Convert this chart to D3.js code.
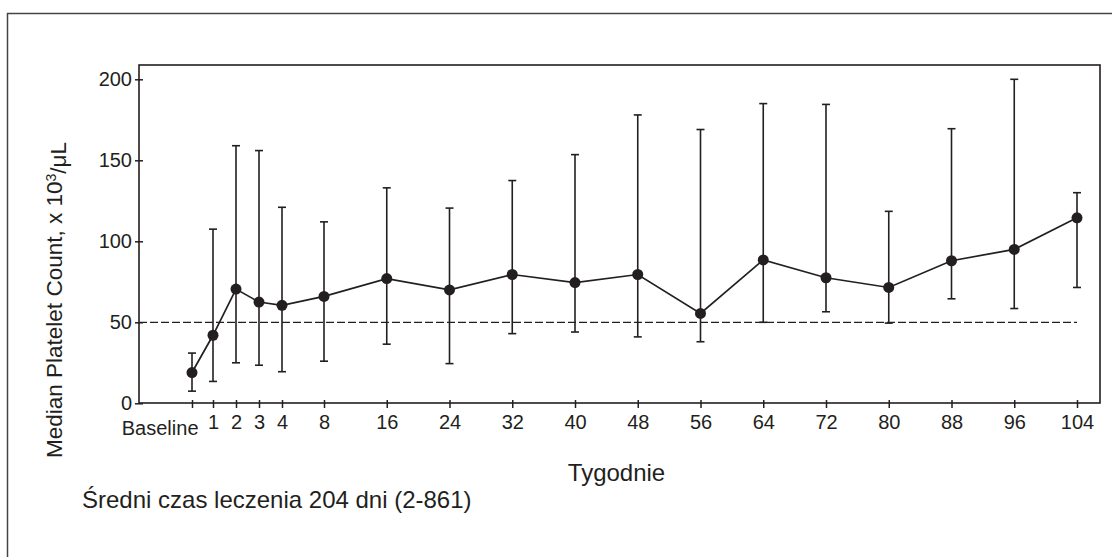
<!DOCTYPE html>
<html>
<head>
<meta charset="utf-8">
<script src="https://cdn.jsdelivr.net/npm/d3@7"></script>
<style>
  body { margin: 0; background: #fff; }
  text { font-family: "Liberation Sans", Arial, sans-serif; fill: #231f20; }
</style>
</head>
<body>
<div id="chart"></div>
<script>
const WIDTH = 1112;
const HEIGHT = 557;
const INK = "#231f20";

// weeks (Baseline = 0) and tick labels
const weeks = [0, 1, 2, 3, 4, 8, 16, 24, 32, 40, 48, 56, 64, 72, 80, 88, 96, 104];
const weekLabels = ["Baseline", "1", "2", "3", "4", "8", "16", "24", "32", "40", "48", "56", "64", "72", "80", "88", "96", "104"];

// median platelet count and range, x 10^3/uL
const median = [19, 42, 70.5, 62.5, 60.5, 66, 77, 70, 79.5, 74.5, 79.5, 55.5, 88.5, 77.5, 71.5, 88, 95, 114.5];
const upper = [31, 107.5, 159, 156, 121, 112, 133, 120.5, 137.5, 153.5, 178, 169, 185, 184.5, 118.5, 169.5, 200, 130];
const lower = [7.5, 13.5, 25, 23.5, 19.5, 26, 36.5, 24.5, 43, 44, 41, 38, 50, 56.5, 49.5, 64.5, 58.5, 71.5];

const yTicks = [0, 50, 100, 150, 200];
const threshold = 50;

const plot = { left: 139, top: 65, right: 1100, bottom: 403 };

const svg = d3.select("#chart")
    .append("svg")
    .attr("width", WIDTH)
    .attr("height", HEIGHT);

// outer frame (runs off the right/bottom edge)
svg.append("rect")
    .attr("x", 7.5).attr("y", 13.5)
    .attr("width", WIDTH + 20).attr("height", HEIGHT + 20)
    .attr("fill", "none").attr("stroke", "#444").attr("stroke-width", 1.5);

// x: uneven spacing for the early weeks
const x = d3.scaleLinear()
    .domain([0, 1, 4, 8, 104])
    .range([192, 213, 282, 324, 1077]);

const y = d3.scaleLinear()
    .domain([0, 200])
    .range([403.3, 79.3]);

// plot box
svg.append("rect")
    .attr("x", plot.left).attr("y", plot.top)
    .attr("width", plot.right - plot.left).attr("height", plot.bottom - plot.top)
    .attr("fill", "none").attr("stroke", INK).attr("stroke-width", 1.6);

// === Y AXIS ===
const yAxis = svg.append("g")
    .attr("transform", `translate(${plot.left},0)`)
    .call(d3.axisLeft(y).tickValues(yTicks).tickSize(0).tickPadding(7));
yAxis.select(".domain").remove();
yAxis.selectAll(".tick line")
    .attr("x1", -4).attr("x2", 4)
    .attr("stroke", INK).attr("stroke-width", 1.5);
yAxis.selectAll(".tick text")
    .attr("fill", INK)
    .style("font-size", "20px")
    .style("font-family", "Liberation Sans, Arial, sans-serif");

// === X AXIS ===
const xAxis = svg.append("g")
    .attr("transform", `translate(0,${plot.bottom})`)
    .call(d3.axisBottom(x).tickValues(weeks).tickSize(0)
        .tickFormat((d, i) => weekLabels[i]));
xAxis.select(".domain").remove();
xAxis.selectAll(".tick line")
    .attr("y1", -3).attr("y2", 5)
    .attr("stroke", INK).attr("stroke-width", 1.5);
xAxis.selectAll(".tick text")
    .attr("fill", INK)
    .attr("dy", null)
    .attr("y", (d, i) => i === 0 ? 32 : 26)
    .attr("text-anchor", (d, i) => i === 0 ? "end" : "middle")
    .attr("x", (d, i) => i === 0 ? 6 : 0)
    .style("font-size", "20px")
    .style("font-family", "Liberation Sans, Arial, sans-serif");

// threshold line at 50
svg.append("line")
    .attr("x1", plot.left).attr("x2", x(104))
    .attr("y1", y(threshold)).attr("y2", y(threshold))
    .attr("stroke", INK).attr("stroke-width", 1.3)
    .attr("stroke-dasharray", "8,3");

const rows = weeks.map((w, i) => ({ w, m: median[i], hi: upper[i], lo: lower[i] }));

// error bars
const bars = svg.append("g")
    .selectAll("g")
    .data(rows)
    .enter()
    .append("g")
    .attr("stroke", INK)
    .attr("stroke-width", 1.6);

bars.append("line")
    .attr("x1", d => x(d.w)).attr("x2", d => x(d.w))
    .attr("y1", d => y(d.hi)).attr("y2", d => y(d.lo));
bars.append("line")
    .attr("x1", d => x(d.w) - 4).attr("x2", d => x(d.w) + 4)
    .attr("y1", d => y(d.hi)).attr("y2", d => y(d.hi));
bars.append("line")
    .attr("x1", d => x(d.w) - 4).attr("x2", d => x(d.w) + 4)
    .attr("y1", d => y(d.lo)).attr("y2", d => y(d.lo));

// median line + points
svg.append("path")
    .datum(rows)
    .attr("fill", "none")
    .attr("stroke", INK)
    .attr("stroke-width", 1.7)
    .attr("d", d3.line().x(d => x(d.w)).y(d => y(d.m)));

svg.append("g")
    .selectAll("circle")
    .data(rows)
    .enter()
    .append("circle")
    .attr("cx", d => x(d.w))
    .attr("cy", d => y(d.m))
    .attr("r", 5.5)
    .attr("fill", INK);

// === LABELS ===
const yLabel = svg.append("text")
    .attr("transform", "translate(62,300) rotate(-90)")
    .attr("text-anchor", "middle")
    .style("font-size", "22.5px");
yLabel.append("tspan").text("Median Platelet Count, x 10");
yLabel.append("tspan").attr("dy", "-0.45em").style("font-size", "14px").text("3");
yLabel.append("tspan").attr("dy", "0.45em").text("/\u03bcL");

svg.append("text")
    .attr("x", (plot.left + plot.right) / 2 - 3)
    .attr("y", 481)
    .attr("text-anchor", "middle")
    .style("font-size", "24px")
    .text("Tygodnie");

svg.append("text")
    .attr("x", 82)
    .attr("y", 508)
    .style("font-size", "24px")
    .text("Średni czas leczenia 204 dni (2-861)");
</script>
</body>
</html>
